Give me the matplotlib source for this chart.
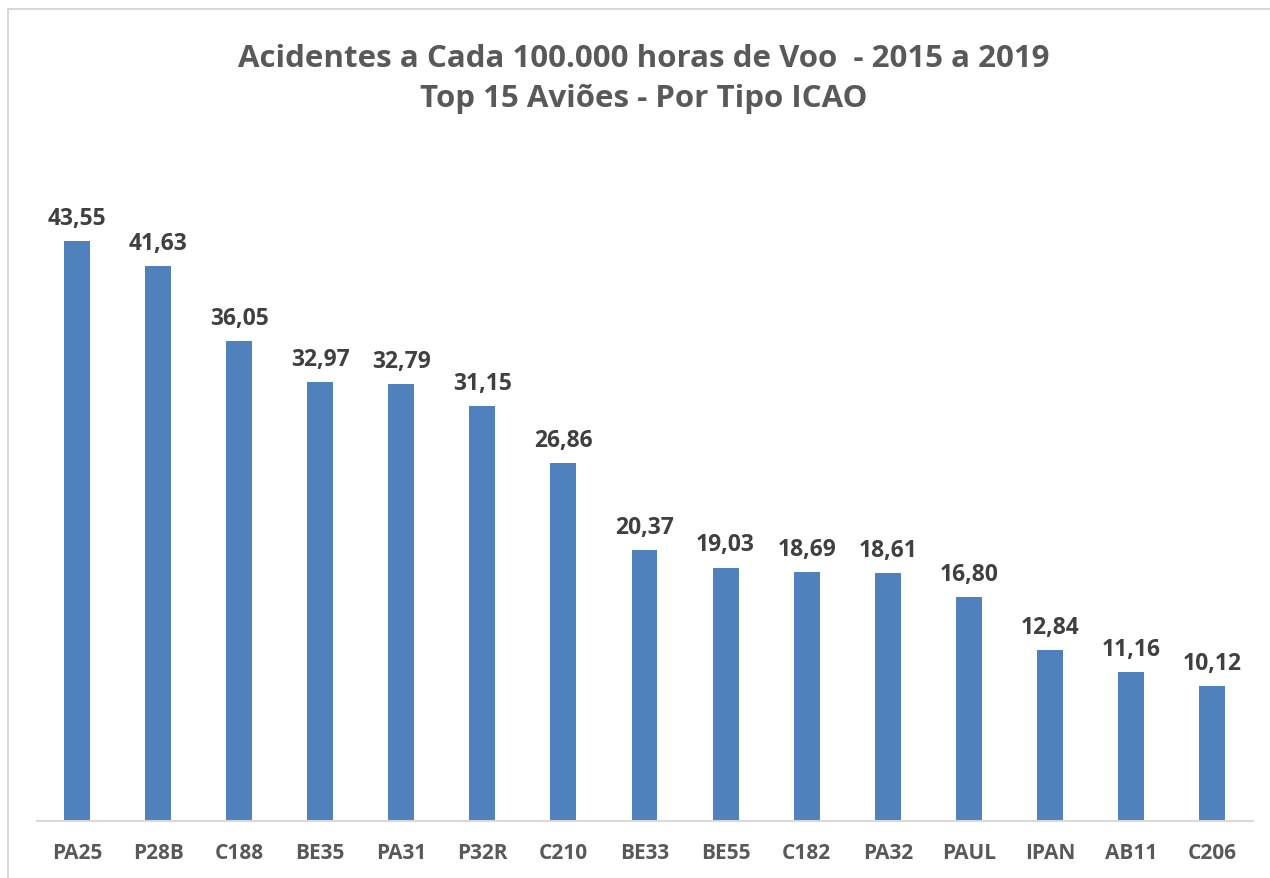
import matplotlib
matplotlib.use('Agg')
from matplotlib import pyplot as plt
from matplotlib.patches import Rectangle

# dados
tipos = ["PA25", "P28B", "C188", "BE35", "PA31", "P32R", "C210", "BE33",
         "BE55", "C182", "PA32", "PAUL", "IPAN", "AB11", "C206"]
taxas = [43.55, 41.63, 36.05, 32.97, 32.79, 31.15, 26.86, 20.37,
         19.03, 18.69, 18.61, 16.80, 12.84, 11.16, 10.12]

titulo = "Acidentes a Cada 100.000 horas de Voo  - 2015 a 2019\nTop 15 Aviões - Por Tipo ICAO"

plt.rcParams['font.family'] = ['Open Sans', 'DejaVu Sans']

fig = plt.figure(figsize=(12.7, 8.79), dpi=100)
fig.patches.append(Rectangle((8 / 1270, -0.1), 1.2, (879 - 10) / 879 + 0.1,
                             transform=fig.transFigure, fill=False,
                             edgecolor='#d9d9d9', linewidth=1.5))

ax = fig.add_axes([36.5 / 1270, 57 / 879, 1216 / 1270, 666 / 879])
x = range(len(tipos))
ax.bar(x, taxas, width=0.32, color='#4f81bd', zorder=2)

for xi, v in zip(x, taxas):
    ax.annotate(f"{v:.2f}".replace('.', ','), (xi, v), xytext=(0, 8),
                textcoords='offset points', ha='center', va='bottom',
                fontsize=16.5, fontweight='bold', color='#404040')

ax.set_xlim(-0.5, len(tipos) - 0.5)
ax.set_ylim(0, 50)
ax.set_xticks(list(x))
ax.set_xticklabels(tipos, fontsize=15, fontweight='bold', color='#595959')
ax.tick_params(axis='x', length=0, pad=15)
ax.set_yticks([])
for s in ['top', 'right', 'left']:
    ax.spines[s].set_visible(False)
ax.spines['bottom'].set_color('#d9d9d9')
ax.spines['bottom'].set_linewidth(1.5)

fig.text(644 / 1270, 1 - 79 / 879, titulo, ha='center', va='center',
         fontsize=22.5, fontweight='bold', color='#595959', linespacing=1.45)

fig.savefig('out.png')
